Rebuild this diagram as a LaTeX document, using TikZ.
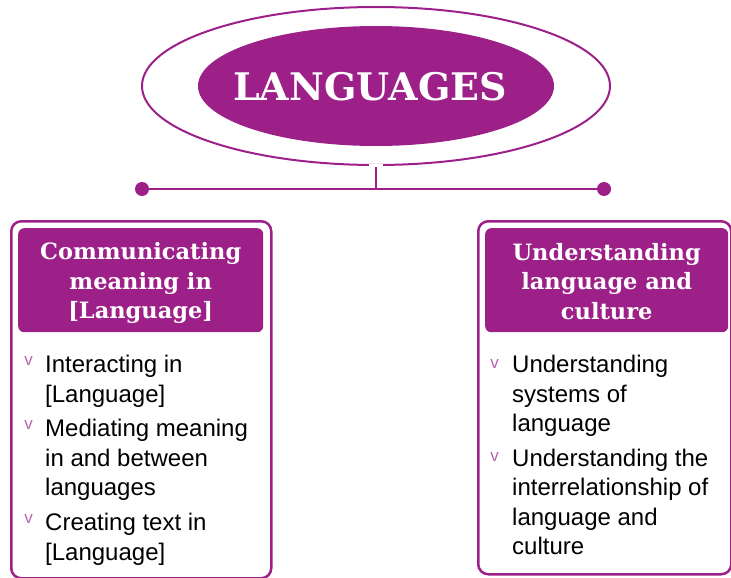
\documentclass[tikz,border=0pt]{standalone}
\usepackage{fontspec}
\setmainfont{Liberation Sans}
\newfontfamily\slabfont{DejaVu Serif}
\usetikzlibrary{positioning,shapes.geometric}
\definecolor{langpurple}{RGB}{157,32,137}
\definecolor{chevpurple}{RGB}{185,100,170}
\tikzset{
  ring/.style={ellipse, draw=langpurple, line width=2pt, inner sep=0pt},
  title/.style={ellipse, fill=langpurple, inner sep=0pt},
  titletext/.style={text=white, inner sep=0pt,
    font=\slabfont\bfseries\fontsize{38}{38}\selectfont},
  link/.style={draw=langpurple, line width=2.5pt},
  dot/.style={circle, fill=langpurple, inner sep=0pt, minimum size=14pt},
  strand/.style={rectangle, rounded corners=10pt, draw=langpurple, line width=2.5pt},
  head/.style={rectangle, rounded corners=6pt, fill=langpurple, inner sep=0pt},
  headtext/.style={text=white, align=center, inner sep=0pt,
    font=\slabfont\bfseries\fontsize{22.5}{29.5}\selectfont},
  item/.style={align=left, inner sep=0pt, text=black,
    font=\fontsize{24}{29.5}\selectfont},
  chev/.style={inner sep=0pt, text=chevpurple, font=\fontsize{17}{17}\selectfont}
}
\begin{document}
\begin{tikzpicture}[x=1pt, y=-1pt]
\useasboundingbox (0,0) rectangle (731,578);

% title
\node[ring, minimum width=468pt, minimum height=158pt] (ring) at (376,86) {};
\node[title, minimum width=356pt, minimum height=120pt] (title) at (376,86) {};
\node[titletext] (titletext) at (370,87) {LANGUAGES};

% connectors
\node[dot] (ldot) at (142,189) {};
\node[dot] (rdot) at (604,189) {};
\draw[white, line width=5pt] ([xshift=-7pt]ring.south) -- ([xshift=7pt]ring.south);
\draw[link] ([yshift=-1pt]ring.south) -- (ring.south |- ldot);
\draw[link] (ldot) -- (rdot);

% left strand
\node[strand, minimum width=260pt, minimum height=357pt, anchor=north west] (lbox) at (10,220) {};
\node[head, minimum width=245pt, minimum height=104pt, anchor=north west] (lhead) at (18,228) {};
\node[headtext] (lheadtext) at ([yshift=-3pt]lhead.center) {Communicating\\meaning in\\{}[Language]};
\node[item, anchor=north west] (l1) at (45,355) {Interacting in\\{}[Language]};
\node[item, below=12pt of l1.south west, anchor=north west] (l2) {Mediating meaning\\in and between\\languages};
\node[item, below=12pt of l2.south west, anchor=north west] (l3) {Creating text in\\{}[Language]};
\foreach \n in {l1,l2,l3}
  \node[chev, anchor=north east] at ([xshift=-12pt, yshift=-1pt]\n.north west) {v};

% right strand
\node[strand, minimum width=253pt, minimum height=353pt, anchor=north west] (rbox) at (477,220) {};
\node[head, minimum width=243pt, minimum height=104pt, anchor=north west] (rhead) at (485,228) {};
\node[headtext] (rheadtext) at ([yshift=-1pt]rhead.center) {Understanding\\language and\\culture};
\node[item, anchor=north west] (r1) at (512,355) {Understanding\\systems of\\language};
\node[item, below=12pt of r1.south west, anchor=north west] (r2) {Understanding the\\interrelationship of\\language and\\culture};
\foreach \n in {r1,r2}
  \node[chev, anchor=north east] at ([xshift=-13pt, yshift=-4pt]\n.north west) {v};
\end{tikzpicture}
\end{document}
